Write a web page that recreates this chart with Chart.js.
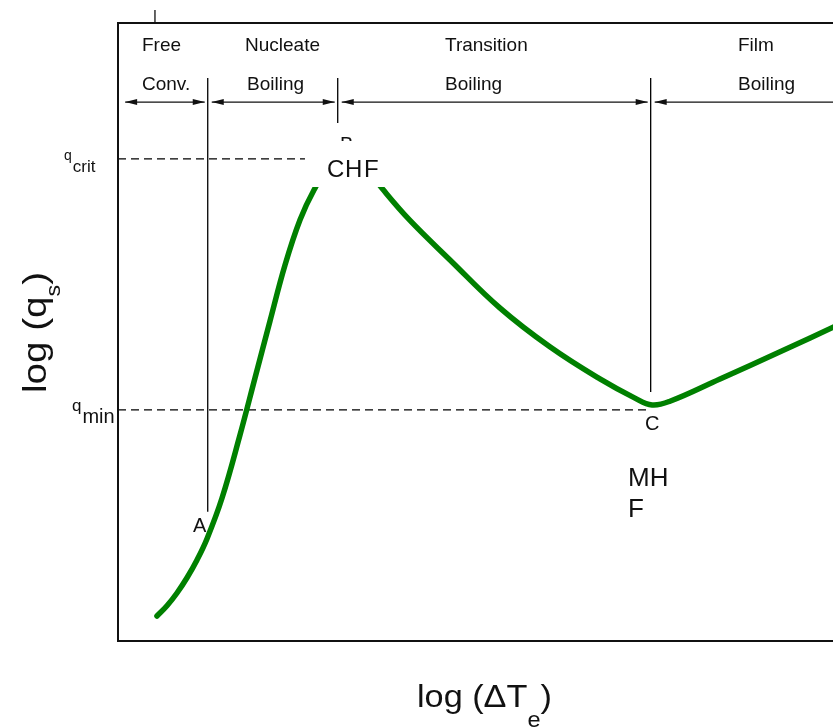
<!DOCTYPE html>
<html>
<head>
<meta charset="utf-8">
<style>
  html, body { margin: 0; padding: 0; background: #fff; }
  #wrap { width: 833px; height: 728px; }
</style>
<script src="https://cdn.jsdelivr.net/npm/chart.js@4.4.1/dist/chart.umd.min.js"></script>
</head>
<body>
<div id="wrap"><canvas id="boiling" width="833" height="728"></canvas></div>
<script>
// boiling curve (arbitrary log units, 0..10 on both axes)
const deltaT   = [0.545, 0.685, 0.825, 0.965, 1.105, 1.245, 1.455, 1.706, 1.916, 2.126, 2.336, 2.545, 2.741, 2.94, 3.18, 3.41, 3.71, 4.08, 4.64, 5.34, 6.04, 6.74, 7.23, 7.47, 7.72, 8.42, 9.26, 10.1];
const heatFlux = [0.405, 0.57, 0.777, 1.023, 1.311, 1.655, 2.314, 3.333, 4.256, 5.178, 6.084, 6.812, 7.298, 7.65, 7.83, 7.74, 7.3, 6.81, 6.17, 5.39, 4.76, 4.24, 3.93, 3.82, 3.88, 4.24, 4.68, 5.13];

const qCrit = 7.8;
const qMin = 3.74;
const qCritEnd = 2.615;
const qMinEnd = 7.44;

// regime boundaries (A, B, C) and where their marker lines stop
const boundaryX = [1.255, 3.073, 7.45];
const boundaryBottom = [2.09, 8.38, 4.03];
const boundaryTop = 9.11;
const arrowRowY = 8.72;
const regimeStart = 0.1;

const regimeTop = ['Free', 'Nucleate', 'Transition', 'Film'];
const regimeBottom = ['Conv.', 'Boiling', 'Boiling', 'Boiling'];

const curve = deltaT.map((v, i) => ({ x: v, y: heatFlux[i] }));

function segment(x1, y1, x2, y2) {
    return [{ x: x1, y: y1 }, { x: x2, y: y2 }];
}

const thin = { borderColor: '#000', borderWidth: 1.3, pointRadius: 0, fill: false };

const datasets = [
    { label: 'curve', data: curve, borderColor: '#008000', borderWidth: 5.5, pointRadius: 0,
      tension: 0.4, borderCapStyle: 'round', borderJoinStyle: 'round', fill: false },
    { label: 'qcrit', data: segment(0, qCrit, qCritEnd, qCrit), ...thin, borderDash: [8, 5] },
    { label: 'qmin', data: segment(0, qMin, qMinEnd, qMin), ...thin, borderDash: [8, 5] }
];
boundaryX.forEach((bx, i) => {
    datasets.push({ label: 'edge' + i, data: segment(bx, boundaryTop, bx, boundaryBottom[i]), ...thin });
});

function arrowHead(ctx, x, y, dir) {
    ctx.beginPath();
    ctx.moveTo(x, y);
    ctx.lineTo(x - dir * 12, y - 3);
    ctx.lineTo(x - dir * 12, y + 3);
    ctx.closePath();
    ctx.fill();
}

function text(ctx, str, x, y, size) {
    ctx.font = size + 'px "Liberation Sans", Arial, sans-serif';
    ctx.fillText(str, x, y);
    return ctx.measureText(str).width;
}

const annotations = {
    id: 'annotations',
    afterDatasetsDraw(chart) {
        const { ctx, scales: { x, y } } = chart;
        const left = x.getPixelForValue(0), right = chart.width;
        const top = y.getPixelForValue(10), bottom = y.getPixelForValue(0);
        ctx.save();
        ctx.strokeStyle = '#111';
        ctx.fillStyle = '#111';

        // frame: left, top and bottom (right side runs off the picture)
        ctx.lineWidth = 2;
        ctx.beginPath();
        ctx.moveTo(right, top); ctx.lineTo(left, top); ctx.lineTo(left, bottom); ctx.lineTo(right, bottom);
        ctx.stroke();
        ctx.lineWidth = 1.3;
        ctx.beginPath();
        ctx.moveTo(x.getPixelForValue(0.517), top); ctx.lineTo(x.getPixelForValue(0.517), top - 13);
        ctx.stroke();

        // regime arrows
        const ay = y.getPixelForValue(arrowRowY);
        const edges = [regimeStart].concat(boundaryX);
        ctx.lineWidth = 1.3;
        for (let i = 0; i < edges.length; i++) {
            const x1 = x.getPixelForValue(edges[i]) + (i === 0 ? 0 : 4);
            const x2 = i + 1 < edges.length ? x.getPixelForValue(edges[i + 1]) - 3 : right + 20;
            ctx.beginPath(); ctx.moveTo(x1, ay); ctx.lineTo(x2, ay); ctx.stroke();
            arrowHead(ctx, x1, ay, -1);
            arrowHead(ctx, x2, ay, 1);
        }

        // regime names
        ctx.textBaseline = 'alphabetic';
        const colX = [142, 245, 445, 738];
        regimeTop.forEach((s, i) => text(ctx, s, colX[i], 51, 19));
        regimeBottom.forEach((s, i) => text(ctx, s, colX[i] + (i === 1 ? 2 : 0), 90, 19));

        // point B hidden under the CHF label
        text(ctx, 'B', 340, 151, 20);
        ctx.fillStyle = '#fff';
        ctx.fillRect(306, 141, 80, 46);
        ctx.fillStyle = '#111';
        text(ctx, 'C', 327, 177, 24);
        text(ctx, 'H', 345, 177, 24);
        text(ctx, 'F', 364, 177, 24);

        text(ctx, 'A', 193, 532, 20);
        text(ctx, 'C', 645, 430, 20);
        text(ctx, 'MH', 628, 486, 26);
        text(ctx, 'F', 628, 517, 26);

        // q labels on the y side
        let w = text(ctx, 'q', 64, 160, 14);
        text(ctx, 'crit', 64 + w + 1, 172, 17);
        w = text(ctx, 'q', 72, 411, 17);
        text(ctx, 'min', 72 + w + 1, 423, 20);

        // x axis title
        ctx.save();
        ctx.translate(417, 707);
        ctx.scale(1.07, 1);
        let cx = 0;
        cx += text(ctx, 'log (\u0394T', cx, 0, 32);
        cx += text(ctx, 'e', cx, 20, 22);
        text(ctx, ')', cx, 0, 32);
        ctx.restore();

        // y axis title
        ctx.save();
        ctx.translate(46, 393);
        ctx.rotate(-Math.PI / 2);
        ctx.scale(1.17, 1);
        cx = 0;
        cx += text(ctx, 'log (q', cx, 0, 33);
        cx += text(ctx, 's', cx, 14, 20);
        text(ctx, ')', cx, 0, 33);
        ctx.restore();

        ctx.restore();
    }
};

new Chart(document.getElementById('boiling'), {
    type: 'line',
    data: { datasets },
    options: {
        responsive: false,
        devicePixelRatio: 1,
        animation: false,
        layout: { padding: { left: 118, top: 23, right: 0, bottom: 87 } },
        plugins: { legend: { display: false }, tooltip: { enabled: false } },
        scales: {
            x: { type: 'linear', min: 0, max: 10, display: false },
            y: { type: 'linear', min: 0, max: 10, display: false }
        }
    },
    plugins: [annotations]
});
</script>
</body>
</html>
